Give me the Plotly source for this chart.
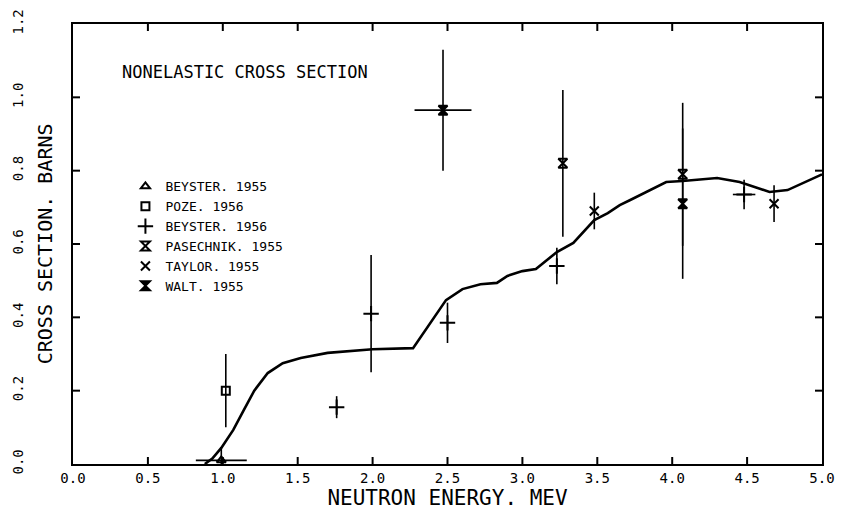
import plotly.graph_objects as go

# calculated nonelastic cross section curve
curve_e = [0.88, 0.93, 0.99, 1.07, 1.14, 1.21, 1.30, 1.40, 1.52, 1.70, 2.00, 2.27,
           2.49, 2.60, 2.72, 2.83, 2.90, 3.00, 3.09, 3.23, 3.34, 3.48, 3.57, 3.65,
           3.72, 3.85, 3.96, 4.07, 4.30, 4.45, 4.65, 4.77, 4.87, 5.00]
curve_sigma = [0.0, 0.015, 0.044, 0.093, 0.147, 0.20, 0.248, 0.275, 0.289, 0.303, 0.313, 0.316,
               0.447, 0.477, 0.49, 0.494, 0.513, 0.526, 0.532, 0.578, 0.603, 0.665, 0.684, 0.706,
               0.72, 0.747, 0.769, 0.772, 0.78, 0.769, 0.742, 0.747, 0.766, 0.79]

# measurements: energy, value, errors
beyster55_e = [0.99]
beyster55_s = [0.01]
beyster55_dx = [0.17]
beyster55_dy = [0.035]

poze56_e = [1.02]
poze56_s = [0.20]
poze56_dy = [0.10]

beyster56_e = [1.76, 1.99, 2.50, 3.23, 4.48]
beyster56_s = [0.155, 0.41, 0.385, 0.54, 0.735]
beyster56_dy_up = [0.03, 0.16, 0.055, 0.05, 0.04]
beyster56_dy_dn = [0.03, 0.16, 0.055, 0.05, 0.04]
beyster56_dx = [0.0, 0.0, 0.0, 0.0, 0.075]

pasechnik55_e = [3.27, 4.07]
pasechnik55_s = [0.82, 0.79]
pasechnik55_dy = [0.20, 0.195]

taylor55_e = [3.48, 4.68]
taylor55_s = [0.69, 0.71]
taylor55_dy = [0.05, 0.05]

walt55_e = [2.47, 4.07]
walt55_s = [0.965, 0.71]
walt55_dy = [0.165, 0.205]
walt55_dx = [0.19, 0.0]

# inner tick positions on the frame
x_tick_vals = [0.5, 1.0, 1.5, 2.0, 2.5, 3.0, 3.5, 4.0, 4.5]
y_tick_vals = [0.2, 0.4, 0.6, 0.8, 1.0]

FONT = "DejaVu Sans Mono"
BLACK = "black"
TICK_LEN = 7


def err(arr, minus=None, visible=True):
    d = dict(type="data", array=arr, color=BLACK, thickness=1.6, width=0, visible=visible)
    if minus is not None:
        d["arrayminus"] = minus
    return d


def marker(symbol, size=9):
    return dict(symbol=symbol, size=size, color=BLACK, line=dict(color=BLACK, width=2))


fig = go.Figure()

fig.add_trace(go.Scatter(x=curve_e, y=curve_sigma, mode="lines",
                         line=dict(color=BLACK, width=2.6), showlegend=False))

fig.add_trace(go.Scatter(x=beyster55_e, y=beyster55_s, mode="markers", name="BEYSTER. 1955",
                         marker=marker("triangle-up-open", 8),
                         error_x=err(beyster55_dx), error_y=err(beyster55_dy)))
fig.add_trace(go.Scatter(x=poze56_e, y=poze56_s, mode="markers", name="POZE. 1956",
                         marker=marker("square-open", 8), error_y=err(poze56_dy)))
fig.add_trace(go.Scatter(x=beyster56_e, y=beyster56_s, mode="markers", name="BEYSTER. 1956",
                         marker=marker("cross-thin", 11),
                         error_x=err(beyster56_dx), error_y=err(beyster56_dy_up, beyster56_dy_dn)))
fig.add_trace(go.Scatter(x=pasechnik55_e, y=pasechnik55_s, mode="markers", name="PASECHNIK. 1955",
                         marker=marker("hourglass-open", 9), error_y=err(pasechnik55_dy)))
fig.add_trace(go.Scatter(x=taylor55_e, y=taylor55_s, mode="markers", name="TAYLOR. 1955",
                         marker=marker("x-thin", 9), error_y=err(taylor55_dy)))
fig.add_trace(go.Scatter(x=walt55_e, y=walt55_s, mode="markers", name="WALT. 1955",
                         marker=marker("hourglass", 9),
                         error_x=err(walt55_dx), error_y=err(walt55_dy)))

fig.add_annotation(text="NONELASTIC CROSS SECTION", xref="paper", yref="paper",
                   x=0.063, y=0.89, xanchor="left", yanchor="middle", showarrow=False,
                   font=dict(family=FONT, size=17, color=BLACK))

# y title sits between the tick labels and the axis line, as in the original plot
fig.add_annotation(text="CROSS SECTION. BARNS", xref="paper", yref="paper",
                   x=-0.037, y=0.5, xanchor="center", yanchor="middle", textangle=-90,
                   showarrow=False, font=dict(family=FONT, size=20, color=BLACK))

# inward ticks on all four sides of the frame
tick_line = dict(color=BLACK, width=2)
for xv in x_tick_vals:
    fig.add_shape(type="line", xref="x", yref="paper", ysizemode="pixel", yanchor=0,
                  x0=xv, x1=xv, y0=0, y1=TICK_LEN, line=tick_line)
    fig.add_shape(type="line", xref="x", yref="paper", ysizemode="pixel", yanchor=1,
                  x0=xv, x1=xv, y0=0, y1=-TICK_LEN, line=tick_line)
for yv in y_tick_vals:
    fig.add_shape(type="line", xref="paper", yref="y", xsizemode="pixel", xanchor=0,
                  x0=0, x1=TICK_LEN, y0=yv, y1=yv, line=tick_line)
    fig.add_shape(type="line", xref="paper", yref="y", xsizemode="pixel", xanchor=1,
                  x0=0, x1=-TICK_LEN, y0=yv, y1=yv, line=tick_line)

axis_style = dict(showline=True, linecolor=BLACK, linewidth=2, mirror=True,
                  ticks="", showgrid=False, zeroline=False, automargin=False,
                  tickfont=dict(family=FONT, size=14, color=BLACK))

fig.update_xaxes(range=[0, 5], dtick=0.5, tickformat=".1f",
                 title=dict(text="NEUTRON ENERGY. MEV", standoff=2,
                            font=dict(family=FONT, size=21, color=BLACK)),
                 **axis_style)
fig.update_yaxes(range=[0, 1.2], dtick=0.2, showticklabels=False, **axis_style)

# second y axis only carries the tick labels, pushed out past the title
fig.update_layout(yaxis2=dict(
    overlaying="y", matches="y", side="left", range=[0, 1.2], dtick=0.2,
    tickformat=".1f", tickangle=-90, ticks="", showline=False, showgrid=False,
    zeroline=False, automargin=False, ticklabelstandoff=46,
    tickfont=dict(family=FONT, size=14, color=BLACK)))
fig.add_trace(go.Scatter(x=[None], y=[None], yaxis="y2", showlegend=False, hoverinfo="skip"))

# page body adds an 8px offset, so the figure is a bit smaller than the window
fig.update_layout(
    width=837, height=506,
    margin=dict(l=65, r=23, t=16, b=50),
    paper_bgcolor="white", plot_bgcolor="white",
    font=dict(family=FONT, color=BLACK),
    legend=dict(x=0.07, y=0.665, xanchor="left", yanchor="top",
                bgcolor="rgba(0,0,0,0)", font=dict(family=FONT, size=13, color=BLACK),
                itemwidth=30, tracegroupgap=0),
)

fig.write_html("out.html")
